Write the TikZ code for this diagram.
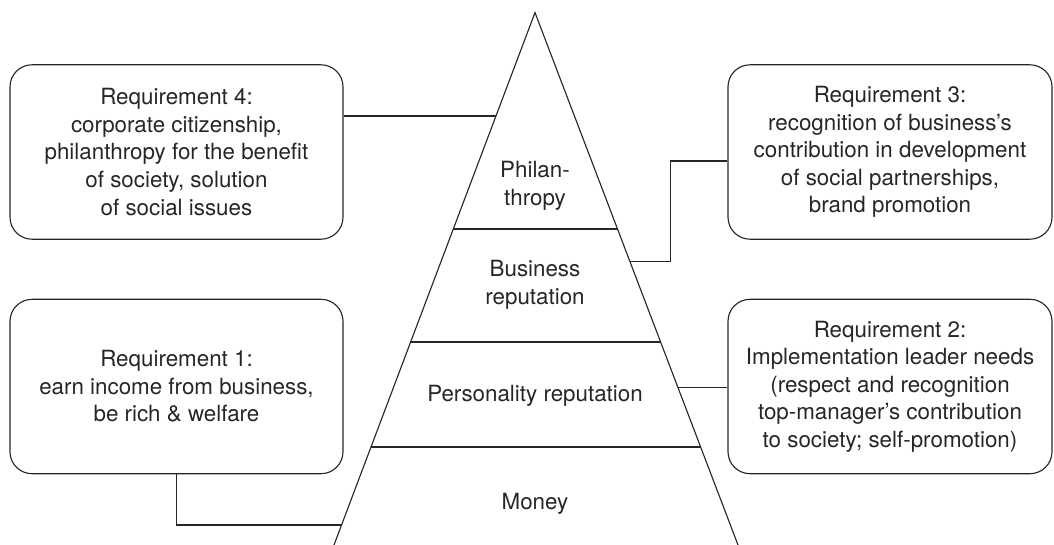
\documentclass[tikz,border=0pt]{standalone}
\usepackage{fontspec}
\setmainfont{TeX Gyre Heros}
\usetikzlibrary{calc}

\begin{document}
\begin{tikzpicture}[line width=0.8pt, draw=black!85,
	req/.style={rectangle, rounded corners=0.55cm, draw, align=center, minimum height=4.36cm, font=\fontsize{15.9}{19.6}\selectfont, text=black!85},
	layer/.style={align=center, font=\fontsize{15.9}{19.6}\selectfont, text=black!85}]
	\useasboundingbox (0,0) rectangle (26.35,13.625);
	% pyramid
	\coordinate (apex)  at (13.375, 13.31);
	\coordinate (baseL) at ( 8.35,   0);
	\coordinate (baseR) at (18.45,   0);
	\draw (baseL) -- (apex) -- (baseR);
	\coordinate (l1L) at ($(baseL)!0.5935!(apex)$);
	\coordinate (l1R) at ($(baseR)!0.5935!(apex)$);
	\coordinate (l2L) at ($(baseL)!0.3813!(apex)$);
	\coordinate (l2R) at ($(baseR)!0.3813!(apex)$);
	\coordinate (l3L) at ($(baseL)!0.1841!(apex)$);
	\coordinate (l3R) at ($(baseR)!0.1841!(apex)$);
	\draw (l1L) -- (l1R);
	\draw (l2L) -- (l2R);
	\draw (l3L) -- (l3R);
	\node (philan)   at (13.375, 8.975) [layer] {Philan-\\thropy};
	\node (business) at (13.375, 6.5)   [layer] {Business\\reputation};
	\node (person)   at (13.375, 3.725) [layer] {Personality reputation};
	\node (money)    at (13.375, 1.025) [layer] {Money};
	% requirements
	\node (req4) at ( 4.4125, 9.825)  [req, minimum width=8.325cm] {Requirement 4:\\corporate citizenship,\\philanthropy for the benefit\\of society, solution\\of social issues};
	\node (req1) at ( 4.4125, 3.9625) [req, minimum width=8.325cm] {Requirement 1:\\earn income from business,\\be rich \& welfare};
	\node (req3) at (22.25,   9.825)  [req, minimum width=8.1cm] {Requirement 3:\\recognition of business’s\\contribution in development\\of social partnerships,\\brand promotion};
	\node (req2) at (22.25,   3.9625) [req, minimum width=8.1cm] {Requirement 2:\\Implementation leader needs\\(respect and recognition\\top-manager’s contribution\\to society; self-promotion)};
	% connectors
	\coordinate (e4) at ($(baseL)!0.8058!(apex)$);
	\coordinate (e3) at ($(baseR)!0.5321!(apex)$);
	\coordinate (e2) at ($(baseR)!0.2955!(apex)$);
	\coordinate (e1) at ($(baseL)!0.0376!(apex)$);
	\coordinate (k3) at (16.77, 9.6);
	\draw (e4) -- (e4 -| req4.east);
	\draw (e3) -| (k3) -- (k3 -| req3.west);
	\draw (e2) -- (e2 -| req2.west);
	\draw (req1.south) |- (e1);
\end{tikzpicture}
\end{document}
